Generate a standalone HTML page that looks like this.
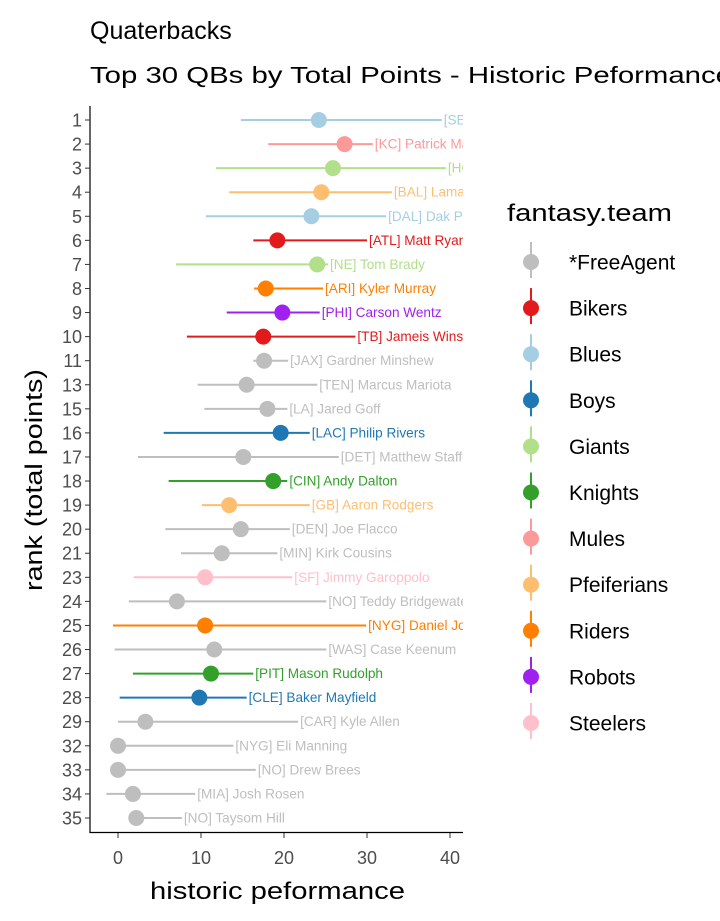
<!DOCTYPE html>
<html><head><meta charset="utf-8"><style>
body{margin:0;background:#fff;}
svg{display:block;font-family:"Liberation Sans",sans-serif;}
</style></head><body>
<svg id="chart" width="720" height="921">
<defs><clipPath id="panel"><rect x="90" y="100" width="373" height="734"/></clipPath></defs>
<text x="90" y="39" font-size="25" fill="#000">Quaterbacks</text>
<text x="90" y="83" font-size="23" fill="#000" textLength="642" lengthAdjust="spacingAndGlyphs">Top 30 QBs by Total Points - Historic Peformance</text>
<g id="marks" clip-path="url(#panel)"></g>
<g id="axes"></g>
<g id="legend"></g>
</svg>
<script>
const ranks=[1,2,3,4,5,6,7,8,9,10,11,13,15,16,17,18,19,20,21,23,24,25,26,27,28,29,32,33,34,35];
const players=["[SEA] Russell Wilson","[KC] Patrick Mahomes","[HOU] Deshaun Watson","[BAL] Lamar Jackson","[DAL] Dak Prescott","[ATL] Matt Ryan","[NE] Tom Brady","[ARI] Kyler Murray","[PHI] Carson Wentz","[TB] Jameis Winston","[JAX] Gardner Minshew","[TEN] Marcus Mariota","[LA] Jared Goff","[LAC] Philip Rivers","[DET] Matthew Stafford","[CIN] Andy Dalton","[GB] Aaron Rodgers","[DEN] Joe Flacco","[MIN] Kirk Cousins","[SF] Jimmy Garoppolo","[NO] Teddy Bridgewater","[NYG] Daniel Jones","[WAS] Case Keenum","[PIT] Mason Rudolph","[CLE] Baker Mayfield","[CAR] Kyle Allen","[NYG] Eli Manning","[NO] Drew Brees","[MIA] Josh Rosen","[NO] Taysom Hill"];
const teams=["Blues","Mules","Giants","Pfeiferians","Blues","Bikers","Giants","Riders","Robots","Bikers","*FreeAgent","*FreeAgent","*FreeAgent","Boys","*FreeAgent","Knights","Pfeiferians","*FreeAgent","*FreeAgent","Steelers","*FreeAgent","Riders","*FreeAgent","Knights","Boys","*FreeAgent","*FreeAgent","*FreeAgent","*FreeAgent","*FreeAgent"];
const lows=[14.8,18.1,11.8,13.4,10.6,16.3,7.0,16.4,13.1,8.3,16.3,9.6,10.4,5.5,2.4,6.1,10.1,5.7,7.6,1.9,1.3,-0.6,-0.4,1.8,0.2,0,0,0,-1.4,2.2];
const mids=[24.2,27.3,25.9,24.5,23.3,19.2,24.0,17.8,19.8,17.5,17.6,15.5,18.0,19.6,15.1,18.7,13.4,14.8,12.5,10.5,7.1,10.5,11.6,11.2,9.8,3.3,0,0,1.8,2.2];
const highs=[39.0,30.7,39.5,33.0,32.3,30.0,25.3,24.7,24.3,28.6,20.5,24.0,20.4,23.1,26.6,20.4,23.1,20.7,19.2,21.0,25.1,29.9,25.1,16.3,15.5,21.7,13.9,16.6,9.3,7.7];
const xTicks=[0,10,20,30,40];
const legendTeams=["*FreeAgent","Bikers","Blues","Boys","Giants","Knights","Mules","Pfeiferians","Riders","Robots","Steelers"];
const legendColors=["#BEBEBE","#E31A1C","#A6CEE3","#1F78B4","#B2DF8A","#33A02C","#FB9A99","#FDBF6F","#FF7F00","#A020F0","#FFC0CB"];

const NS="http://www.w3.org/2000/svg";
function mk(tag,attrs,parent){const e=document.createElementNS(NS,tag);for(const k in attrs)e.setAttribute(k,attrs[k]);parent.appendChild(e);return e;}
const xs=v=>118+v*8.3;
const ys=i=>120+i*(818-120)/(ranks.length-1);
const col=t=>legendColors[legendTeams.indexOf(t)];
const marks=document.getElementById('marks'),axes=document.getElementById('axes'),leg=document.getElementById('legend');

ranks.forEach((r,i)=>{
  const y=ys(i),c=col(teams[i]);
  const g=mk('g',{},marks);
  
  
  const l=mk('line',{x1:xs(lows[i]),x2:xs(highs[i]),y1:y,y2:y,stroke:c,'stroke-width':2},g);
  
  
  const p=mk('circle',{cx:xs(mids[i]),cy:y,r:8,fill:c},g);
  
  
  const t=mk('text',{x:xs(highs[i])+2,y:y+4.5,'font-size':13.6,fill:c},g);
  t.textContent=players[i];
  
  
});

const ya=mk('line',{x1:90,x2:90,y1:106,y2:833,stroke:'#000','stroke-width':1.2},axes);


const xa=mk('line',{x1:89.5,x2:463,y1:832.5,y2:832.5,stroke:'#000','stroke-width':1.2},axes);


ranks.forEach((r,i)=>{
  const y=ys(i);
  const tk=mk('line',{x1:85,x2:90,y1:y,y2:y,stroke:'#333','stroke-width':1},axes);
  
  
  const t=mk('text',{x:82,y:y+6.5,'font-size':18,fill:'#4d4d4d','text-anchor':'end'},axes);
  t.textContent=r;
  
  
});
xTicks.forEach(v=>{
  const x=xs(v);
  const tk=mk('line',{x1:x,x2:x,y1:833,y2:838,stroke:'#333','stroke-width':1},axes);
  
  
  const t=mk('text',{x:x,y:864,'font-size':18,fill:'#4d4d4d','text-anchor':'middle'},axes);
  t.textContent=v;
  
  
});
const xt=mk('text',{x:150,y:899,'font-size':24,fill:'#000',textLength:255,lengthAdjust:'spacingAndGlyphs'},axes);
xt.textContent='historic peformance';


const yt=mk('text',{x:0,y:0,'font-size':24,fill:'#000',textLength:222,lengthAdjust:'spacingAndGlyphs',transform:'translate(42,591) rotate(-90)'},axes);
yt.textContent='rank (total points)';



const lt=mk('text',{x:507,y:221,'font-size':24,fill:'#000',textLength:165,lengthAdjust:'spacingAndGlyphs'},leg);
lt.textContent='fantasy.team';


legendTeams.forEach((tm,i)=>{
  const y=262+i*46.1,c=legendColors[i];
  const g=mk('g',{},leg);
  
  
  mk('line',{x1:531,x2:531,y1:y-20,y2:y+16,stroke:c,'stroke-width':2},g);
  mk('circle',{cx:531,cy:y,r:8,fill:c},g);
  const t=mk('text',{x:569,y:y+7.5,'font-size':21,fill:'#000'},g);
  t.textContent=tm;
});
</script>
</body></html>
